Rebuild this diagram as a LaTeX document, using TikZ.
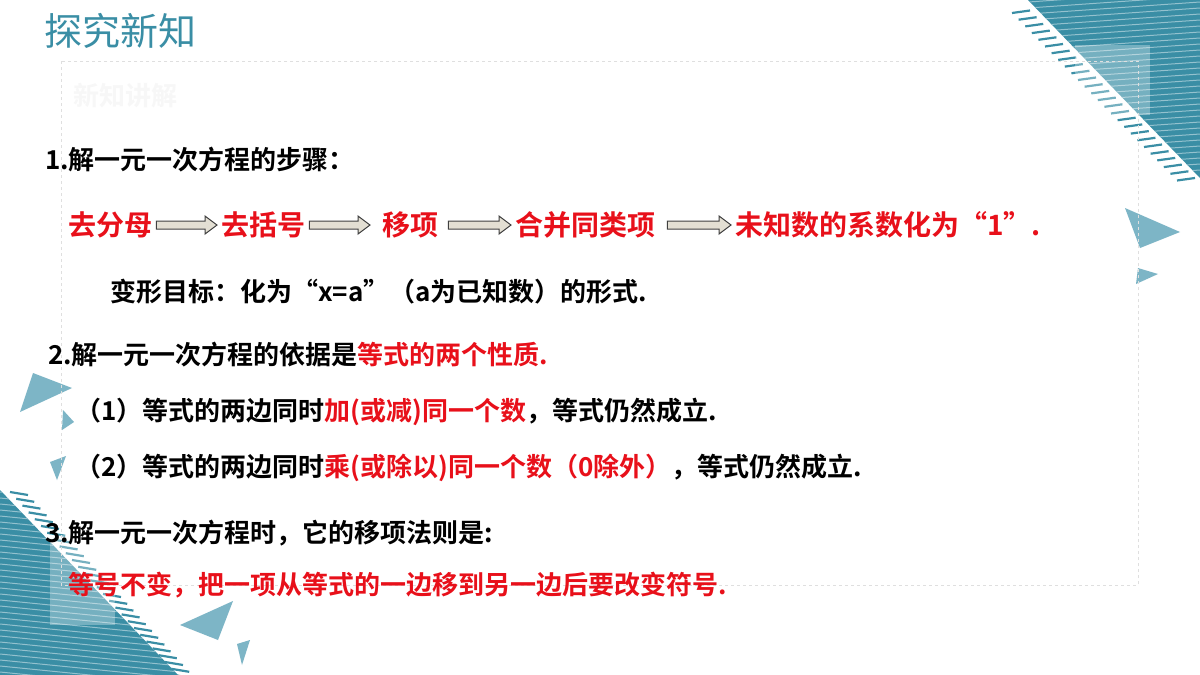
\documentclass[tikz,border=0pt]{standalone}
\usepackage{fontspec}
\setmainfont{Noto Sans CJK SC}
\newfontfamily\cjkb{Noto Sans CJK SC Bold}
\usetikzlibrary{calc}
\definecolor{teal1}{HTML}{3A8EA5}
\definecolor{tealL}{HTML}{7DB5C6}
\definecolor{redT}{HTML}{E8101A}
\definecolor{beige}{HTML}{E3DFD3}
\newcommand\blockarrow[2]{\draw[ba] let \p1=(#1.east), \p2=(#2.west) in
  (\x1+4,\y1+4) -- (\x2-16,\y1+4) -- (\x2-16,\y1+9) -- (\x2-4,\y1) -- (\x2-16,\y1-9) -- (\x2-16,\y1-4) -- (\x1+4,\y1-4) -- cycle;}
\begin{document}
\begin{tikzpicture}[x=1pt,y=-1pt,
  txt/.style={anchor=west,inner sep=0,font=\cjkb\fontsize{26}{30}\selectfont},
  red/.style={txt,text=redT},
  ba/.style={draw=black!75,fill=beige,line width=1pt,line join=miter}]
\useasboundingbox (0,0) rectangle (1200,675);
\fill[white] (0,0) rectangle (1200,675);
% decorations top right
\fill[teal1] (1028,0) -- (1200,0) -- (1200,178) -- cycle;
\begin{scope}
\clip (1028,0) -- (1200,0) -- (1200,178) -- cycle;
\foreach \i in {0,...,30}
  \draw[white!45!teal1,line width=1pt] (1000,{4+\i*6}) -- (1200,{-10+\i*6});
\end{scope}
\foreach \i in {0,...,25}
  \draw[teal1,line width=2.2pt] ({1012+\i*6.6},{13+\i*6.7}) -- ++(18,-2.5);
\fill[white,opacity=0.3] (1075,45) rectangle (1150,115);
\fill[tealL] (1125,208) -- (1180,232) -- (1140,248) -- cycle;
\fill[tealL] (1138,268) -- (1158,274) -- (1136,284) -- cycle;
% decorations bottom left
\fill[teal1] (0,490) -- (0,675) -- (178,675) -- cycle;
\begin{scope}
\clip (0,490) -- (0,675) -- (178,675) -- cycle;
\foreach \i in {0,...,32}
  \draw[white!45!teal1,line width=1pt] (0,{480+\i*6}) -- (200,{500+\i*6});
\end{scope}
\foreach \i in {0,...,27}
  \draw[teal1,line width=2.2pt] ({10+\i*6.2},{492+\i*6.8}) -- ++(18,3);
\fill[white,opacity=0.3] (50,535) rectangle (115,625);
\fill[tealL] (33,373) -- (72,388) -- (20,412) -- cycle;
\fill[tealL] (63,410) -- (74,422) -- (62,430) -- cycle;
\fill[tealL] (50,462) -- (66,456) -- (57,480) -- cycle;
\fill[tealL] (180,625) -- (233,601) -- (218,640) -- cycle;
\fill[tealL] (237,644) -- (250,640) -- (242,665) -- cycle;
% dashed frame
\draw[gray!25,dashed,line width=0.8pt] (61,61) rectangle (1138,585);
% title
\node[anchor=west,inner sep=0,text=teal1,font=\fontsize{38}{42}\selectfont] (title) at (44,31) {探究新知};
\node[anchor=west,inner sep=0,text=gray!6,font=\cjkb\fontsize{26}{30}\selectfont] (sub) at (73,96) {新知讲解};
% content
\node[txt] (l1) at (45,160) {1.解一元一次方程的步骤：};
\node[red,font=\cjkb\fontsize{28}{32}\selectfont] (s1) at (68,225) {去分母};
\node[red,font=\cjkb\fontsize{28}{32}\selectfont] (s2) at (221,225) {去括号};
\node[red,font=\cjkb\fontsize{28}{32}\selectfont] (s3) at (382,225) {移项};
\node[red,font=\cjkb\fontsize{28}{32}\selectfont] (s4) at (515,225) {合并同类项};
\node[red,font=\cjkb\fontsize{28}{32}\selectfont] (s5) at (735,225) {未知数的系数化为“1”.};
\blockarrow{s1}{s2}
\coordinate (e2) at ($(s2.east)+(4,0)$);
\coordinate (w3) at ($(s3.west)+(-8,0)$);
\draw[ba] let \p1=(e2), \p2=(w3) in (\x1,\y1+4) -- (\x2-16,\y1+4) -- (\x2-16,\y1+9) -- (\x2-4,\y1) -- (\x2-16,\y1-9) -- (\x2-16,\y1-4) -- (\x1,\y1-4) -- cycle;
\coordinate (e3) at ($(s3.east)+(10,0)$);
\draw[ba] let \p1=(e3), \p2=(s4.west) in (\x1,\y1+4) -- (\x2-16,\y1+4) -- (\x2-16,\y1+9) -- (\x2-4,\y1) -- (\x2-16,\y1-9) -- (\x2-16,\y1-4) -- (\x1,\y1-4) -- cycle;
\coordinate (e4) at ($(s4.east)+(12,0)$);
\draw[ba] let \p1=(e4), \p2=(s5.west) in (\x1,\y1+4) -- (\x2-16,\y1+4) -- (\x2-16,\y1+9) -- (\x2-4,\y1) -- (\x2-16,\y1-9) -- (\x2-16,\y1-4) -- (\x1,\y1-4) -- cycle;
\node[txt] (goal) at (110,292) {变形目标：化为“x=a”（a为已知数）的形式.};
\node[txt] (l2) at (48,355) {2.解一元一次方程的依据是\textcolor{redT}{等式的两个性质.}};
\node[txt] (p1) at (75,412) {（1）等式的两边同时\textcolor{redT}{加(或减)同一个数}，等式仍然成立.};
\node[txt] (p2) at (75,468) {（2）等式的两边同时\textcolor{redT}{乘(或除以)同一个数（0除外）}，等式仍然成立.};
\node[txt] (l3) at (45,533) {3.解一元一次方程时，它的移项法则是:};
\node[red] (rule) at (68,585) {等号不变，把一项从等式的一边移到另一边后要改变符号.};
\end{tikzpicture}
\end{document}
